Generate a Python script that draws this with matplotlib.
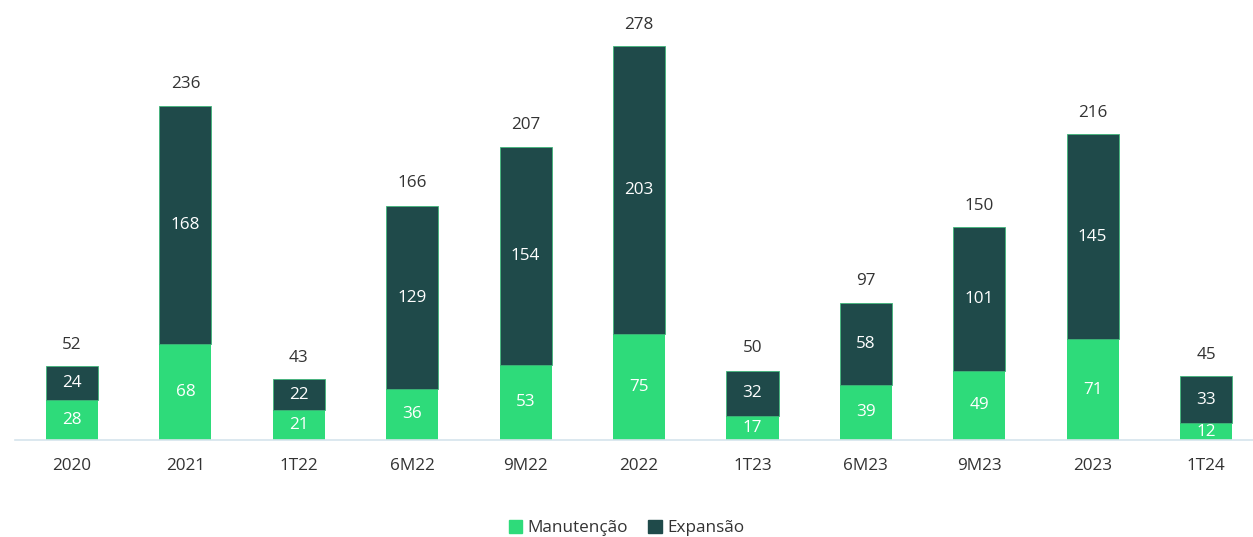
import numpy as np
import matplotlib.pyplot as plt
from matplotlib.patches import Patch

plt.rcParams['font.family'] = ['Open Sans', 'DejaVu Sans']

categories = ['2020', '2021', '1T22', '6M22', '9M22', '2022', '1T23', '6M23', '9M23', '2023', '1T24']
manutencao = [28, 68, 21, 36, 53, 75, 17, 39, 49, 71, 12]
expansao = [24, 168, 22, 129, 154, 203, 32, 58, 101, 145, 33]
totais = [52, 236, 43, 166, 207, 278, 50, 97, 150, 216, 45]

verde = '#2EDB7A'
escuro = '#1F4A4A'

fig = plt.figure(figsize=(12.53, 5.37), dpi=100)
ax = fig.add_axes([15.3 / 1253, 97 / 537, 1 - 15.3 / 1253, 425 / 537])

x = np.arange(len(categories))
w = 0.46
ax.bar(x, manutencao, w, color=verde, zorder=2)
ax.bar(x, expansao, w, bottom=manutencao, color=escuro,
       edgecolor='#3FB77A', linewidth=0.6, zorder=2)

fs = 12.3
for i in range(len(categories)):
    ax.text(x[i], manutencao[i] / 2, str(manutencao[i]), ha='center', va='center',
            color='white', fontsize=fs)
    ax.text(x[i], manutencao[i] + expansao[i] / 2, str(expansao[i]), ha='center',
            va='center', color='white', fontsize=fs)
    ax.text(x[i], totais[i] + 9.5, str(totais[i]), ha='center', va='bottom',
            color='#333333', fontsize=fs)

ax.set_xlim(-0.5, 10.414)
ax.set_ylim(0, 300)
ax.set_xticks(x)
ax.set_xticklabels(categories, fontsize=fs, color='#333333')
ax.tick_params(axis='x', length=0, pad=13)
ax.set_yticks([])
for s in ['top', 'right', 'left']:
    ax.spines[s].set_visible(False)
ax.spines['bottom'].set_color('#D6E4EC')
ax.spines['bottom'].set_linewidth(1.2)

handles = [Patch(color=verde, label='Manutenção'), Patch(color=escuro, label='Expansão')]
fig.legend(handles=handles, loc='center', bbox_to_anchor=(0.5, 9 / 537),
           ncol=2, frameon=False, fontsize=fs, handlelength=0.8, handleheight=0.8,
           handletextpad=0.3, columnspacing=1.2, labelcolor='#333333')

fig.savefig('out.png', dpi=100)
